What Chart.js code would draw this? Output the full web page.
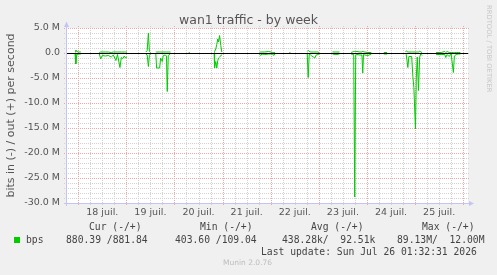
<!DOCTYPE html>
<html>
<head>
<meta charset="utf-8">
<title>wan1 traffic - by week</title>
<script src="https://cdn.jsdelivr.net/npm/chart.js@4.4.1/dist/chart.umd.min.js"></script>
<style>
  html, body { margin: 0; padding: 0; background: #f0f0f0; }
  #wrap { position: relative; width: 497px; height: 275px; overflow: hidden; }
  #graph { position: absolute; left: 0; top: 0; }
  .title { position: absolute; left: 0; width: 497px; top: 12px; text-align: center;
           font-family: "DejaVu Sans", sans-serif; font-size: 12.5px; line-height: 15px; color: #555; }
  .mono { position: absolute; white-space: pre; font-family: "DejaVu Sans Mono", monospace;
          font-size: 9.7px; line-height: 12px; color: #444; }
  .swatch { position: absolute; left: 14px; top: 237px; width: 6px; height: 6px; background: #00cc00; }
  .munin { position: absolute; left: 223px; top: 258px; font-family: "DejaVu Sans", sans-serif;
           font-size: 7.5px; line-height: 10px; color: #bdbdbd; white-space: pre; }
  .rrd { position: absolute; left: 485px; top: 5px; transform-origin: 0 0; transform: rotate(90deg) translate(0, -8px);
         font-family: "DejaVu Sans", sans-serif; font-size: 6.8px; line-height: 8px; color: #c8c8c8; white-space: pre; }
</style>
</head>
<body>
<div id="wrap">
  <canvas id="graph"></canvas>
  <div class="title">wan1 traffic - by week</div>
  <div class="rrd">RRDTOOL / TOBI OETIKER</div>

  <div class="mono" style="left:89px; top:221px;">Cur (-/+)</div>
  <div class="mono" style="left:200px; top:221px;">Min (-/+)</div>
  <div class="mono" style="left:311px; top:221px;">Avg (-/+)</div>
  <div class="mono" style="left:422px; top:221px;">Max (-/+)</div>

  <div class="swatch"></div>
  <div class="mono" style="left:26px; top:234px;">bps</div>
  <div class="mono" style="left:66px; top:234px;">880.39 /881.84</div>
  <div class="mono" style="left:175px; top:234px;">403.60 /109.04</div>
  <div class="mono" style="left:282px; top:234px;">438.28k/  92.51k</div>
  <div class="mono" style="left:397px; top:234px;">89.13M/  12.00M</div>

  <div class="mono" style="left:261px; top:246px;">Last update: Sun Jul 26 01:32:31 2026</div>
  <div class="munin">Munin 2.0.76</div>
</div>

<script>
// hours since 18 juil. 00:00, null rows break the line (unknown data)
const hours = [
  -1.6, -1.2, -0.7, 0.0, 1.3, 2.0,
  10.5, 11.2, 12.0, 13.5, 15.0, 16.5, 17.5, 18.8, 19.6, 20.8, 21.5, 22.3, 23.0, 23.6, 24.3, 25.0,
  33.7, 34.4, 35.0, 35.5, 36.1, 37.0,
  38.7, 39.1, 40.6, 41.1, 41.9, 42.4, 43.5, 44.0, 44.4, 44.9, 46.0, 47.0,
  55.1, 55.6, 56.0,
  67.8, 68.0, 68.6, 69.1, 69.6, 70.0, 70.5, 71.1, 71.6, 72.5,
  90.4, 91.0, 91.6, 93.0, 95.0, 97.0, 97.5, 98.1, 99.0,
  105.3, 105.8, 106.5,
  114.2, 114.7, 115.2, 115.7, 116.5, 117.3, 118.0, 118.7, 119.5, 120.1, 121.0,
  126.8, 128.5, 130.3, 131.0,
  136.1, 137.4, 137.9, 138.4, 139.0, 140.5, 141.5, 141.9, 142.3, 143.0, 144.5, 146.2, 147.0,
  152.4, 154.0, 155.0,
  163.2, 163.6, 164.4, 164.9, 166.3, 166.9, 167.4, 168.2, 168.6, 169.1, 169.7, 170.3, 170.8, 171.5, 172.5,
  178.5, 181.0, 182.8, 183.3, 184.0, 185.0, 186.0, 187.1, 187.6, 188.5, 189.5, 190.6
];
// bits in, Mbit/s (drawn below zero)
const bitsIn = [
  0.2, 2.2, 0.3, 0.2, 0.2, null,
  0.1, 1.2, 0.5, 0.6, 0.5, 0.8, 0.4, 1.5, 0.3, 2.9, 0.9, 1.1, 0.6, 1.0, 0.8, null,
  0.2, 0.4, 2.7, 0.5, 0.1, null,
  0.2, 3.0, 3.0, 1.0, 1.7, 0.5, 0.4, 0.6, 7.7, 0.5, 0.1, null,
  0.1, 0.1, null,
  0.2, 3.0, 1.7, 3.0, 1.5, 1.0, 0.8, 0.6, 0.3, null,
  0.2, 0.5, 0.2, 0.3, 0.2, 0.2, 0.5, 0.2, null,
  0.1, 0.1, null,
  0.1, 4.9, 0.3, 0.3, 0.6, 0.8, 1.0, 0.4, 0.3, 0.2, null,
  0.2, 0.3, 0.2, null,
  0.2, 0.3, 28.8, 0.4, 0.3, 0.4, 0.4, 4.0, 0.3, 0.4, 0.5, 0.2, null,
  0.2, 0.2, null,
  0.1, 0.3, 2.9, 0.7, 0.7, 4.7, 6.9, 15.2, 5.0, 0.8, 7.5, 0.8, 0.2, 0.5, null,
  0.3, 0.3, 0.3, 0.9, 0.3, 0.7, 0.2, 3.9, 0.6, 0.3, 0.2, 0.2
];
// bits out, Mbit/s (drawn above zero)
const bitsOut = [
  0.2, 0.6, 0.3, 0.2, 0.2, null,
  0.1, 0.2, 0.2, 0.2, 0.2, 0.1, 0.2, 0.2, 0.2, 0.2, 0.2, 0.2, 0.2, 0.2, 0.2, null,
  0.2, 0.5, 4.0, 0.3, 0.1, null,
  0.2, 0.2, 0.2, 0.2, 0.2, 0.2, 0.2, 0.2, 0.2, 0.2, 0.2, null,
  0.1, 0.1, null,
  0.1, 0.3, 0.8, 1.7, 2.8, 2.2, 3.5, 1.5, 0.2, null,
  0.2, 0.2, 0.2, 0.2, 0.3, 0.1, 0.1, 0.1, null,
  0.1, 0.1, null,
  0.3, 0.5, 0.4, 0.2, 0.2, 0.2, 0.2, 0.2, 0.2, 0.1, null,
  0.2, 0.2, 0.2, null,
  0.1, 0.3, 0.3, 0.3, 0.3, 0.2, 0.2, 0.4, 0.2, 0.2, 0.1, 0.1, null,
  0.1, 0.1, null,
  0.3, 0.4, 0.2, 0.2, 0.2, 0.2, 0.2, 0.2, 0.2, 0.2, 0.2, 0.4, 0.2, 0.1, null,
  0.1, 0.1, 0.3, 0.1, 0.3, 0.1, 0.1, 0.1, 0.1, 0.1, 0.1, 0.1
];
const dayLabels = ['18 juil.', '19 juil.', '20 juil.', '21 juil.', '22 juil.', '23 juil.', '24 juil.', '25 juil.'];
const dayTicks = [12, 36, 60, 84, 108, 132, 156, 180]; // labels sit at noon

const X_MIN = -5.6, X_MAX = 194.4; // hours shown
const Y_MIN = -30e6, Y_MAX = 5e6;

const GREEN = '#00cc00';
const MINOR = '#d2d2d2';
const MAJOR = '#eaa8a8';
const AXIS = '#c4c4f4';

function toPoints(values, sign) {
  return hours.map((h, i) => ({ x: h, y: values[i] === null ? null : sign * values[i] * 1e6 }));
}

function fmtBits(v) {
  if (v === 0) return '0.0';
  return (v / 1e6).toFixed(1) + ' M';
}

// white canvas + rrdtool style grid, drawn under the lines
const muninGrid = {
  id: 'muninGrid',
  beforeDatasetsDraw(chart) {
    const { ctx, chartArea: a, scales: { x, y } } = chart;
    const vline = (px, col) => {
      ctx.strokeStyle = col;
      ctx.beginPath(); ctx.moveTo(px, a.top - 2); ctx.lineTo(px, a.bottom + 3); ctx.stroke();
    };
    const hline = (py, col) => {
      ctx.strokeStyle = col;
      ctx.beginPath(); ctx.moveTo(a.left - 3, py); ctx.lineTo(a.right + 1, py); ctx.stroke();
    };
    ctx.save();
    ctx.fillStyle = '#ffffff';
    ctx.fillRect(a.left, a.top, a.right - a.left, a.bottom - a.top);
    ctx.lineWidth = 1;
    ctx.setLineDash([1, 1]);
    // minor: every 6h and every 1 M
    for (let h = Math.ceil(X_MIN / 6) * 6; h <= X_MAX; h += 6) {
      if (h % 24 !== 0) vline(Math.round(x.getPixelForValue(h)) + 0.5, MINOR);
    }
    for (let v = Y_MIN; v <= Y_MAX; v += 1e6) {
      if (v % 5e6 !== 0) hline(Math.round(y.getPixelForValue(v)) + 0.5, MINOR);
    }
    // major: midnight and every 5 M
    for (let h = Math.ceil(X_MIN / 24) * 24; h <= X_MAX; h += 24) {
      vline(Math.round(x.getPixelForValue(h)) + 0.5, MAJOR);
    }
    for (let v = Y_MIN; v <= Y_MAX; v += 5e6) {
      hline(Math.round(y.getPixelForValue(v)) + 0.5, MAJOR);
    }
    ctx.restore();
  },
  afterDatasetsDraw(chart) {
    const { ctx, chartArea: a, scales: { y } } = chart;
    const y0 = Math.round(y.getPixelForValue(0)) + 0.5;
    const xb = a.left - 0.5, yb = a.bottom + 0.5;
    ctx.save();
    ctx.lineWidth = 1;
    // zero line
    ctx.strokeStyle = '#000000';
    ctx.beginPath(); ctx.moveTo(a.left, y0); ctx.lineTo(a.right, y0); ctx.stroke();
    // axes with arrows
    ctx.strokeStyle = AXIS;
    ctx.fillStyle = AXIS;
    ctx.beginPath(); ctx.moveTo(xb, a.bottom + 3); ctx.lineTo(xb, a.top - 3); ctx.stroke();
    ctx.beginPath(); ctx.moveTo(a.left - 3, yb); ctx.lineTo(a.right + 2, yb); ctx.stroke();
    ctx.beginPath(); ctx.moveTo(xb - 2.5, a.top - 1); ctx.lineTo(xb, a.top - 6.5); ctx.lineTo(xb + 2.5, a.top - 1); ctx.fill();
    ctx.beginPath(); ctx.moveTo(a.right + 1, yb - 2.5); ctx.lineTo(a.right + 6, yb); ctx.lineTo(a.right + 1, yb + 2.5); ctx.fill();
    ctx.restore();
  }
};

function renderGraph() {
  const ctx = document.getElementById('graph').getContext('2d');
  return new Chart(ctx, {
    type: 'line',
    data: {
      datasets: [
        { label: 'bps in', data: toPoints(bitsIn, -1), borderColor: GREEN, borderWidth: 1, pointRadius: 0, spanGaps: false, tension: 0 },
        { label: 'bps out', data: toPoints(bitsOut, 1), borderColor: GREEN, borderWidth: 1, pointRadius: 0, spanGaps: false, tension: 0 }
      ]
    },
    options: {
      responsive: true,
      maintainAspectRatio: false,
      animation: false,
      events: [],
      layout: { padding: { left: 0, top: 28, right: 29, bottom: 0 } },
      scales: {
        x: {
          type: 'linear',
          min: X_MIN,
          max: X_MAX,
          grid: { display: false, drawTicks: false },
          border: { display: false },
          afterBuildTicks: (scale) => { scale.ticks = dayTicks.map(v => ({ value: v })); },
          afterFit: (scale) => { scale.height = 72; },
          ticks: {
            autoSkip: false,
            maxRotation: 0,
            padding: 4,
            color: '#555',
            font: { family: 'DejaVu Sans', size: 9.5 },
            callback: (v, i) => dayLabels[i]
          }
        },
        y: {
          min: Y_MIN,
          max: Y_MAX,
          grid: { display: false, drawTicks: false },
          border: { display: false },
          afterFit: (scale) => { scale.width = 67; },
          ticks: {
            stepSize: 5e6,
            padding: 7,
            color: '#555',
            font: { family: 'DejaVu Sans', size: 9.5 },
            callback: fmtBits
          },
          title: {
            display: true,
            text: 'bits in (-) / out (+) per second',
            color: '#555',
            padding: { top: 5, bottom: 0 },
            font: { family: 'DejaVu Sans', size: 11, weight: 'normal' }
          }
        }
      },
      plugins: {
        legend: { display: false },
        tooltip: { enabled: false },
        title: { display: false }
      }
    },
    plugins: [muninGrid]
  });
}

renderGraph();
</script>
</body>
</html>
